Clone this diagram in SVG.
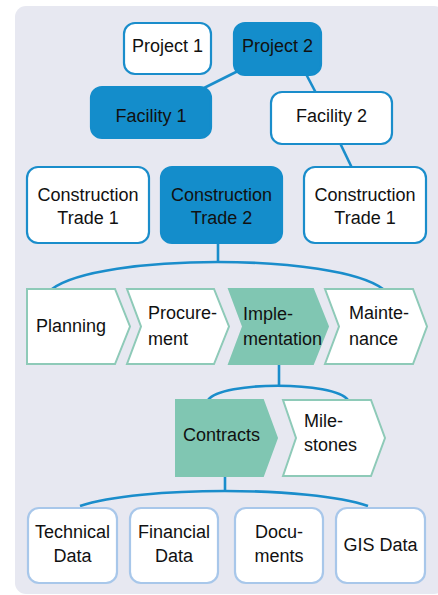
<svg xmlns="http://www.w3.org/2000/svg" width="438" height="595" viewBox="0 0 438 595">
<style>
text{font-family:"Liberation Sans",Arial,sans-serif;font-size:18px;fill:#111;}
.c{text-anchor:middle;}
.bw{fill:#fff;stroke:#1a8dcb;stroke-width:2.2;}
.bf{fill:#148dcb;stroke:#148dcb;stroke-width:2.2;}
.cw{fill:#fff;stroke:#8ecab8;stroke-width:2;stroke-linejoin:miter;}
.cf{fill:#80c6b2;stroke:#80c6b2;stroke-width:2;}
.lb{fill:#fff;stroke:#a8c7ea;stroke-width:2.2;}
.con{fill:none;stroke:#1a8dcb;stroke-width:2.6;}
</style>
<rect x="15" y="6" width="430" height="588" rx="11" fill="#e7e8f1"/>
<g id="connectors">
<line class="con" x1="238" y1="71" x2="204" y2="88"/>
<line class="con" x1="306" y1="74" x2="316" y2="93"/>
<line class="con" x1="340" y1="143" x2="352" y2="168"/>
<line class="con" x1="218" y1="243" x2="218" y2="262"/>
<path class="con" d="M52,289 C100,253 335,253 383,289"/>
<line class="con" x1="279" y1="364" x2="279" y2="386"/>
<path class="con" d="M208,400 C222,381 334,381 348,400"/>
<line class="con" x1="225" y1="476" x2="225" y2="491"/>
<path class="con" d="M80,506 C140,486 310,486 368,506"/>
</g>
<g id="project1"><rect class="bw" x="124" y="23" width="87" height="51" rx="11"/><text class="c" x="167.5" y="52">Project 1</text></g>
<g id="project2"><rect class="bf" x="234" y="23" width="87" height="52" rx="11"/><text class="c" x="277.5" y="52">Project 2</text></g>
<g id="facility1"><rect class="bf" x="91" y="87" width="120" height="51" rx="11"/><text class="c" x="151" y="121.5">Facility 1</text></g>
<g id="facility2"><rect class="bw" x="271" y="92" width="121" height="52" rx="11"/><text class="c" x="331.5" y="121.5">Facility 2</text></g>
<g id="trade1a"><rect class="bw" x="27" y="167" width="122" height="76" rx="11"/><text class="c" x="88" y="201">Construction</text><text class="c" x="88" y="224">Trade 1</text></g>
<g id="trade2"><rect class="bf" x="161" y="167" width="121" height="76" rx="11"/><text class="c" x="221.5" y="201">Construction</text><text class="c" x="221.5" y="224">Trade 2</text></g>
<g id="trade1b"><rect class="bw" x="304" y="167" width="122" height="76" rx="11"/><text class="c" x="365" y="201">Construction</text><text class="c" x="365" y="224">Trade 1</text></g>
<g id="planning"><path class="cw" d="M27,289 L115,289 L130,326.5 L115,364 L27,364 Z"/><text x="36" y="332">Planning</text></g>
<g id="procurement"><path class="cw" d="M127,289 L214,289 L229,326.5 L214,364 L127,364 L141,326.5 Z"/><text x="148" y="319">Procure-</text><text x="148" y="345">ment</text></g>
<g id="implementation"><path class="cf" d="M229,289 L313,289 L328,326.5 L313,364 L229,364 L243,326.5 Z"/><text x="243" y="320">Imple-</text><text x="243" y="345">mentation</text></g>
<g id="maintenance"><path class="cw" d="M325,289 L413,289 L427,326.5 L413,364 L325,364 L339,326.5 Z"/><text x="349" y="319">Mainte-</text><text x="349" y="345">nance</text></g>
<g id="contracts"><path class="cf" d="M176,400 L263,400 L277,438 L263,476 L176,476 Z"/><text x="183" y="441">Contracts</text></g>
<g id="milestones"><path class="cw" d="M283,400 L371,400 L385,438 L371,476 L283,476 L296,438 Z"/><text x="304" y="427">Mile-</text><text x="304" y="451">stones</text></g>
<g id="technical"><rect class="lb" x="28" y="508" width="89" height="75" rx="11"/><text class="c" x="72.5" y="538">Technical</text><text class="c" x="72.5" y="562">Data</text></g>
<g id="financial"><rect class="lb" x="130" y="508" width="88" height="75" rx="11"/><text class="c" x="174" y="538">Financial</text><text class="c" x="174" y="562">Data</text></g>
<g id="documents"><rect class="lb" x="235" y="508" width="88" height="75" rx="11"/><text class="c" x="279" y="538">Docu-</text><text class="c" x="279" y="562">ments</text></g>
<g id="gis"><rect class="lb" x="336" y="508" width="89" height="75" rx="11"/><text class="c" x="380.5" y="551">GIS Data</text></g>
</svg>
